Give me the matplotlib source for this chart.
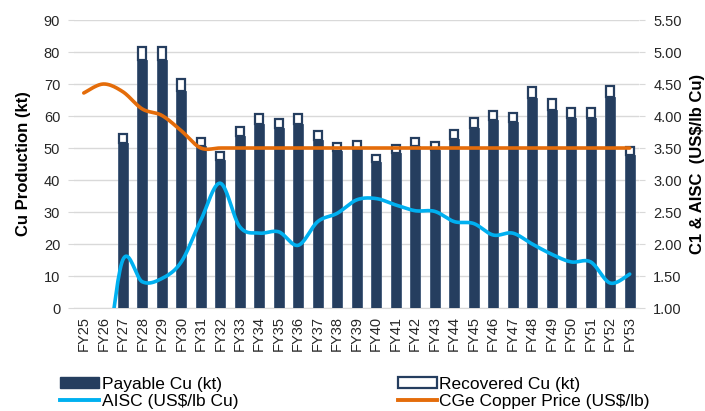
import numpy as np
import matplotlib
matplotlib.use('Agg')
import matplotlib.pyplot as plt
from matplotlib.patches import Patch
from matplotlib.lines import Line2D

plt.rcParams['font.family'] = ['Liberation Sans', 'DejaVu Sans']

years = ['FY25', 'FY26', 'FY27', 'FY28', 'FY29', 'FY30', 'FY31', 'FY32', 'FY33', 'FY34',
         'FY35', 'FY36', 'FY37', 'FY38', 'FY39', 'FY40', 'FY41', 'FY42', 'FY43', 'FY44',
         'FY45', 'FY46', 'FY47', 'FY48', 'FY49', 'FY50', 'FY51', 'FY52', 'FY53']

recovered_cu = [0, 0, 54.4, 81.7, 81.7, 71.5, 53.2, 48.6, 56.6, 60.5,
                59.1, 60.5, 55.3, 51.7, 52.2, 47.9, 50.9, 53.2, 52.0, 55.6,
                59.3, 61.7, 61.0, 69.2, 65.3, 62.6, 62.6, 69.5, 50.4]
payable_cu = [0, 0, 51.7, 77.6, 77.6, 67.9, 50.5, 46.2, 53.8, 57.5,
              56.1, 57.5, 52.5, 49.1, 49.6, 45.5, 48.4, 50.5, 49.4, 52.8,
              56.3, 58.6, 58.0, 65.7, 62.0, 59.5, 59.5, 66.0, 47.9]
aisc = [0, 0, 1.75, 1.41, 1.46, 1.72, 2.37, 2.95, 2.27, 2.17,
        2.19, 1.98, 2.35, 2.48, 2.69, 2.71, 2.61, 2.52, 2.51, 2.35,
        2.32, 2.14, 2.17, 2.00, 1.84, 1.72, 1.72, 1.39, 1.53]
copper_price = [4.36, 4.50, 4.38, 4.11, 4.01, 3.77, 3.50, 3.50, 3.50, 3.50,
                3.50, 3.50, 3.50, 3.50, 3.50, 3.50, 3.50, 3.50, 3.50, 3.50,
                3.50, 3.50, 3.50, 3.50, 3.50, 3.50, 3.50, 3.50, 3.50]

NAVY = '#253E5F'
BLUE = '#00B0F0'
ORANGE = '#E46C0A'
GRID = '#D9D9D9'


# smooth curve through the points, like excel's smoothed line
def smooth(xs, ys, n=20):
    xs = np.asarray(xs, float)
    ys = np.asarray(ys, float)
    px = np.concatenate([[xs[0]], xs, [xs[-1]]])
    py = np.concatenate([[ys[0]], ys, [ys[-1]]])
    out_x, out_y = [], []
    t = np.linspace(0, 1, n, endpoint=False)
    for i in range(1, len(px) - 2):
        for arr, out in ((px, out_x), (py, out_y)):
            p0, p1, p2, p3 = arr[i - 1], arr[i], arr[i + 1], arr[i + 2]
            c1 = p1 + (p2 - p0) / 6
            c2 = p2 - (p3 - p1) / 6
            out.extend((1 - t) ** 3 * p1 + 3 * (1 - t) ** 2 * t * c1 + 3 * (1 - t) * t ** 2 * c2 + t ** 3 * p2)
    out_x.append(xs[-1])
    out_y.append(ys[-1])
    return np.array(out_x), np.array(out_y)


fig = plt.figure(figsize=(7.05, 4.11), dpi=100)
ax = fig.add_axes([0.105, 0.2506, 0.802, 0.7007])
ax2 = ax.twinx()

x = np.arange(len(years))
# only draw years that have production
has_prod = [i for i in range(len(years)) if recovered_cu[i] > 0]
pay = [payable_cu[i] for i in has_prod]
top_part = [recovered_cu[i] - payable_cu[i] for i in has_prod]
ax.bar(has_prod, pay, width=0.5, color=NAVY, edgecolor='#3D5677', linewidth=0.6, zorder=3)
ax.bar(has_prod, top_part, width=0.42, bottom=pay, color='white', edgecolor=NAVY, linewidth=1.6, zorder=3)

sx, sy = smooth(x, aisc)
ax2.plot(sx, sy, color=BLUE, lw=2.6, solid_capstyle='round', zorder=4)
sx, sy = smooth(x, copper_price)
ax2.plot(sx, sy, color=ORANGE, lw=2.6, solid_capstyle='round', zorder=4)

ax.set_xlim(-0.5, len(years) - 0.5)
ax.set_ylim(0, 90)
ax.set_yticks(range(0, 91, 10))
ax2.set_ylim(1.0, 5.5)
ax2.set_yticks(np.arange(1.0, 5.51, 0.5))
ax2.set_yticklabels(['%.2f' % v for v in np.arange(1.0, 5.51, 0.5)])

ax.yaxis.grid(True, color=GRID, lw=1.0, zorder=0)
ax.set_axisbelow(True)
ax.set_zorder(ax2.get_zorder() - 1)
ax.patch.set_visible(False)

for a in (ax, ax2):
    for s in ('top', 'left', 'right'):
        a.spines[s].set_visible(False)
    a.spines['bottom'].set_color(GRID)
    a.tick_params(axis='y', length=4, color=GRID, labelsize=10.5, labelcolor='#262626', pad=6)
ax2.spines['bottom'].set_visible(False)

ax.set_xticks(x)
ax.set_xticklabels(years, rotation=90, fontsize=10.5, color='#262626')
ax.tick_params(axis='x', length=0, pad=6)

ax.set_ylabel('Cu Production (kt)', fontsize=12, fontweight='bold', labelpad=9)
ax2.set_ylabel('C1 & AISC  (US$/lb Cu)', fontsize=12, fontweight='bold', labelpad=6)

handles = [Patch(facecolor=NAVY, edgecolor=NAVY),
           Line2D([], [], color=BLUE, lw=2.8),
           Patch(facecolor='white', edgecolor=NAVY, lw=1.6),
           Line2D([], [], color=ORANGE, lw=2.8)]
labels = ['Payable Cu (kt)', 'AISC (US$/lb Cu)', 'Recovered Cu (kt)', 'CGe Copper Price (US$/lb)']
fig.legend(handles, labels, ncol=2, loc='upper left', bbox_to_anchor=(0.085, 0.083),
           frameon=False, fontsize=12.5, handlelength=2.25, handleheight=0.57, handletextpad=0.15,
           columnspacing=9.2, labelspacing=0.12, borderpad=0, borderaxespad=0)

fig.savefig('out.png', dpi=100)
